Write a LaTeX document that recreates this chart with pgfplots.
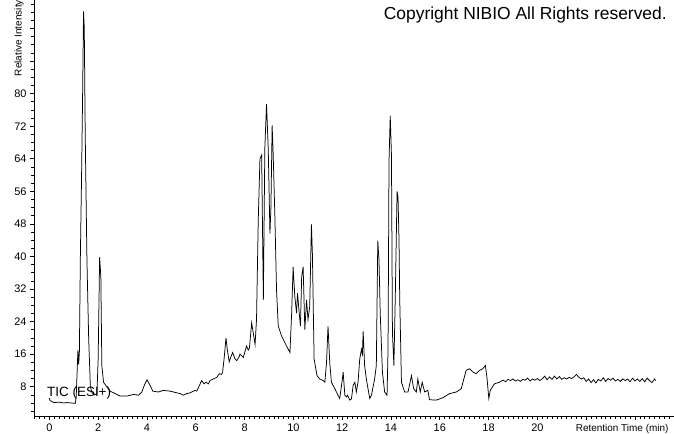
\documentclass[border=0pt]{standalone}
\usepackage{fontspec}
\setmainfont{Liberation Sans}
\usepackage{pgfplots}
\pgfplotsset{compat=1.18}
\begin{document}
\begin{tikzpicture}
\begin{axis}[
  at={(0,0)}, anchor=south west,
  scale only axis, width=640bp, height=416bp,
  xmin=-0.63, xmax=25.6, ymin=0.8, ymax=103,
  axis lines*=left,
  axis line style={line width=0.8bp},
  tick align=outside,
  major tick length=4bp, minor tick length=3bp,
  every tick/.style={black, line width=0.6bp},
  xtick={0,2,...,20},
  extra x ticks={22,24}, extra x tick labels={},
  minor xtick={-0.6,-0.4,...,25.6},
  ytick={8,16,...,80},
  extra y ticks={88,96}, extra y tick labels={},
  minor ytick={2,4,...,102},
  /pgf/number format/assume math mode=true,
  ticklabel style={font=\fontsize{11}{12}\selectfont},
  xticklabel style={yshift=-0.5bp},
  xlabel={Retention Time (min)},
  xlabel style={at={(axis description cs:1,0)}, anchor=base east, yshift=-15bp, xshift=-2bp, font=\fontsize{10}{12}\selectfont},
  ylabel={Relative Intensity},
  ylabel style={at={(axis description cs:-0.0235,1.0)}, anchor=east, inner sep=0pt, font=\fontsize{10}{12}\selectfont},
  clip=false,
]
\addplot[black, line width=0.75bp] coordinates {
(0.00,5.2)(0.03,4.6)(0.18,4.1)(0.40,4.2)(0.60,4.0)(0.72,4.1)(0.90,4.0)(1.06,3.9)
(1.10,5.5)(1.14,12)(1.17,17)(1.20,13.5)(1.23,16.5)(1.27,39.8)(1.32,60)(1.36,78.5)
(1.40,100.2)(1.43,96.2)(1.47,69.8)(1.54,39)(1.61,20)(1.68,8)(1.75,6.5)(1.85,6.0)
(1.95,6.3)(2.00,15)(2.06,39.8)(2.11,35)(2.15,13.2)(2.22,9.1)(2.36,7.9)(2.49,6.9)
(2.70,6.3)(2.90,5.7)(3.18,5.7)(3.45,6.1)(3.65,5.9)(3.79,6.7)(3.90,8.5)(4.00,9.7)
(4.13,8.3)(4.24,6.9)(4.47,6.7)(4.67,7.1)(4.95,6.9)(5.22,6.5)(5.36,6.3)(5.49,5.9)
(5.63,6.3)(5.77,6.5)(5.97,7.1)(6.04,6.9)(6.15,8.3)(6.24,9.5)(6.34,8.7)(6.42,9.1)
(6.52,8.7)(6.58,9.5)(6.72,9.9)(6.86,10.3)(6.97,11.2)(7.06,11.0)(7.10,11.6)(7.16,14.8)
(7.24,20.0)(7.29,17.2)(7.37,14.1)(7.42,15.0)(7.51,16.4)(7.61,14.8)(7.68,14.4)(7.78,15.4)
(7.81,16)(7.95,15.2)(8.08,18)(8.15,17)(8.20,17.5)(8.29,23.7)(8.43,18.4)(8.49,24.5)
(8.56,48.7)(8.63,64)(8.70,64.9)(8.77,29.3)(8.83,66.5)(8.90,77.4)(8.97,66.5)(9.04,45.6)
(9.08,52)(9.13,72.2)(9.17,65.7)(9.24,50.4)(9.31,31.8)(9.38,22.9)(9.52,20.4)(9.72,18)
(9.86,16.4)(9.93,26.1)(9.99,37.4)(10.06,30.1)(10.13,26.1)(10.17,31)(10.24,26.1)(10.29,22.9)
(10.34,35)(10.40,37.4)(10.47,22)(10.54,29.3)(10.60,24.5)(10.67,27.7)(10.74,47.9)(10.78,40.6)
(10.85,14.8)(10.97,10.7)(11.08,9.9)(11.22,9.5)(11.29,9.1)(11.36,14)(11.42,22.9)(11.49,14)
(11.56,9.1)(11.70,7.5)(11.83,5.9)(11.90,5.1)(12.01,9.9)(12.04,11.6)(12.11,5.9)(12.18,5.5)
(12.22,5.9)(12.31,4.7)(12.38,5.0)(12.45,8.3)(12.52,9.1)(12.58,6.7)(12.65,9.1)(12.72,14.8)
(12.79,17.2)(12.83,16)(12.86,21.6)(12.92,13.2)(12.99,9.9)(13.13,5.1)(13.20,5.9)(13.33,9.9)
(13.40,13.2)(13.46,43.9)(13.51,39)(13.56,26.1)(13.65,11.6)(13.74,6.7)(13.84,5.9)(13.88,17.2)
(13.92,63.3)(13.97,74.6)(14.02,64.9)(14.06,21.3)(14.12,13.2)(14.18,31)(14.25,56)(14.29,54.4)
(14.33,43.9)(14.36,29.3)(14.43,9.1)(14.56,6.7)(14.70,6.7)(14.84,10.7)(14.93,7.5)(15.04,6.7)
(15.10,9.9)(15.20,6.7)(15.28,9.1)(15.38,6.7)(15.51,7.1)(15.58,4.8)(15.86,4.7)(16.13,5.3)
(16.40,6.3)(16.68,6.7)(16.88,7.5)(17.08,12)(17.22,12.4)(17.36,11.6)(17.49,11.2)(17.63,12)
(17.76,12.4)(17.87,13.2)(17.94,9.9)(18.01,5.1)(18.07,7.1)(18.24,8.7)(18.45,9.1)
(18.5,9.3)(18.6,9.6)(18.7,9.2)(18.8,9.8)(18.9,9.5)(19.0,9.9)(19.1,9.4)(19.2,9.7)
(19.3,9.3)(19.4,9.8)(19.5,9.6)(19.6,10.1)(19.7,9.4)(19.8,9.9)(19.9,9.6)(20.0,10.0)
(20.1,9.5)(20.2,9.9)(20.3,10.6)(20.4,9.7)(20.5,10.4)(20.6,9.8)(20.7,10.6)(20.8,9.9)
(20.9,10.5)(21.0,9.8)(21.1,10.2)(21.2,9.9)(21.3,10.3)(21.4,10.0)(21.5,10.4)(21.6,11.0)
(21.7,10.3)(21.8,9.9)(21.9,10.2)(22.0,9.3)(22.1,9.9)(22.2,9.0)(22.3,9.7)(22.4,8.9)
(22.5,9.8)(22.6,9.4)(22.7,10.2)(22.8,9.3)(22.9,10.0)(23.0,9.6)(23.1,10.1)(23.2,9.4)
(23.3,9.8)(23.4,9.3)(23.5,9.9)(23.6,9.5)(23.7,9.9)(23.8,9.2)(23.9,10.1)(24.0,9.4)
(24.1,9.9)(24.2,9.3)(24.3,10.0)(24.4,9.2)(24.5,10.1)(24.6,9.5)(24.7,9.0)(24.8,9.9)(24.85,9.5)
};
\node[anchor=base east, inner sep=0pt, font=\fontsize{17.5}{20}\selectfont] at (axis description cs:0.989,0.954) {Copyright NIBIO All Rights reserved.};
\node[anchor=base west, font=\fontsize{13.5}{15}\selectfont, inner sep=0pt] at (axis description cs:0.0203,0.0457) {TIC (ESI+)};
\end{axis}
\pgfresetboundingbox
\useasboundingbox (-34bp,-18bp) rectangle (640bp,416bp);
\end{tikzpicture}
\end{document}
